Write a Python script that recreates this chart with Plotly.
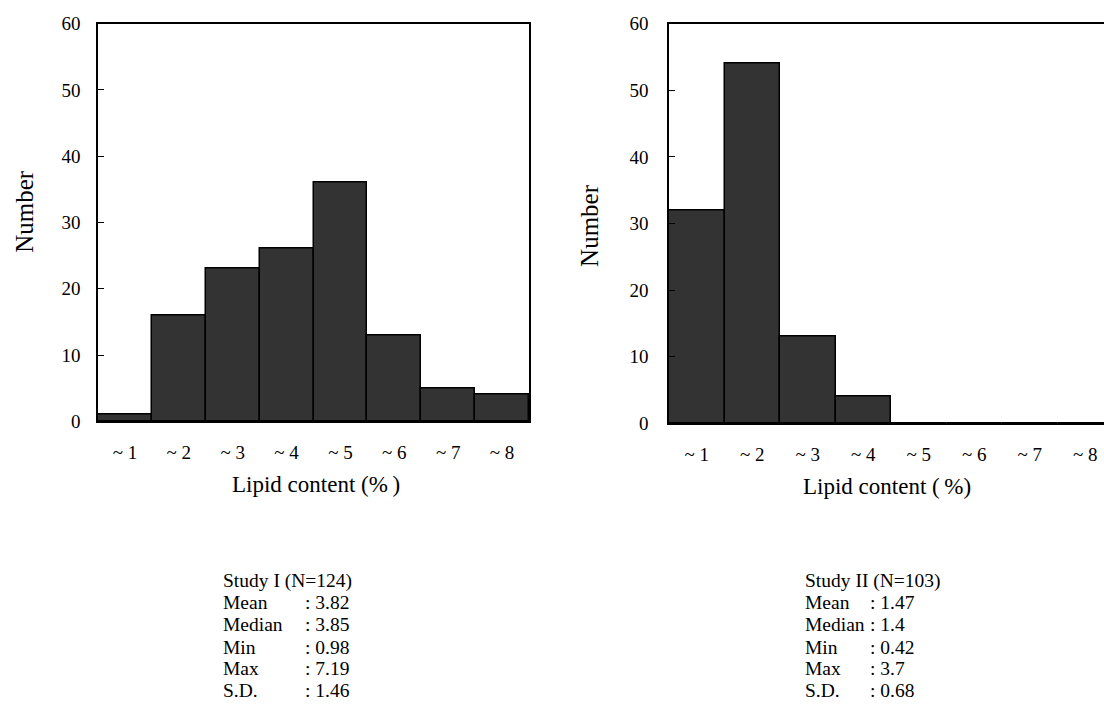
import plotly.graph_objects as go

categories = ["~ 1", "~ 2", "~ 3", "~ 4", "~ 5", "~ 6", "~ 7", "~ 8"]
study1_counts = [1, 16, 23, 26, 36, 13, 5, 4]
study2_counts = [32, 54, 13, 4, 0, 0, 0, 0]
y_ticks = [0, 10, 20, 30, 40, 50, 60]
stat_names = ["Mean", "Median", "Min", "Max", "S.D."]
study1_stats = ["3.82", "3.85", "0.98", "7.19", "1.46"]
study2_stats = ["1.47", "1.4", "0.42", "3.7", "0.68"]
study1_title = "Study I (N=124)"
study2_title = "Study II (N=103)"

W, H = 1104, 709
FONT = "Liberation Serif, Times New Roman, serif"
FS = 19

def px(x):
    return x / W

def py(y):
    return 1 - y / H

xpos = list(range(len(categories)))

fig = go.Figure()
fig.add_trace(go.Bar(x=xpos, y=study1_counts, width=1, xaxis="x", yaxis="y",
                     marker=dict(color="#333333", line=dict(color="black", width=1.5)),
                     showlegend=False))
fig.add_trace(go.Bar(x=xpos, y=study2_counts, width=1, xaxis="x2", yaxis="y2",
                     marker=dict(color="#333333", line=dict(color="black", width=1.5)),
                     showlegend=False))

axis_common = dict(showgrid=False, zeroline=False, showline=True, linecolor="black",
                   linewidth=1.5, tickfont=dict(family=FONT, size=FS, color="black"))

BW2 = 55.5  # right panel bar width in px
fig.update_layout(
    width=W, height=H,
    margin=dict(l=0, r=0, t=0, b=0),
    paper_bgcolor="white", plot_bgcolor="white",
    bargap=0,
    font=dict(family=FONT, size=FS, color="black"),
    xaxis=dict(domain=[px(98), px(529)], range=[-0.5, 7.5], tickvals=xpos, ticktext=categories,
               ticks="", mirror=True, ticklabelstandoff=13, anchor="y", **axis_common),
    yaxis=dict(domain=[py(424), py(14)], range=[0, 60], tickvals=y_ticks, ticks="inside",
               ticklen=6, tickcolor="black", mirror=True, ticklabelstandoff=12, anchor="x",
               **axis_common),
    xaxis2=dict(domain=[px(669), 1.0], range=[-0.5, (W - 669) / BW2 - 0.5], tickvals=xpos,
                ticktext=categories, ticks="", mirror=True, ticklabelstandoff=13, anchor="y2",
                **axis_common),
    yaxis2=dict(domain=[py(426), py(14)], range=[0, 60], tickvals=y_ticks, ticks="inside",
                ticklen=6, tickcolor="black", mirror=False, ticklabelstandoff=15, anchor="x2",
                **axis_common),
)

ann = []
def text(x, y, s, xanchor="left", angle=0, size=FS):
    ann.append(dict(x=px(x), y=py(y), xref="paper", yref="paper", text=s, showarrow=False,
                    xanchor=xanchor, yanchor="middle", textangle=angle,
                    font=dict(family=FONT, size=size, color="black")))

text(25, 208, "Number", "center", -90, 25)
text(590, 222.5, "Number", "center", -90, 25)
text(316, 489, "Lipid content (%\u2009)", "center", size=23)
text(887, 491, "Lipid content (\u2009%)", "center", size=23)

title_y = 588
rows_y = [610.8, 633.5, 656.5, 679, 701.5]
SFS = 19.5
text(221, title_y, study1_title, size=SFS)
text(803, title_y, study2_title, size=SFS)
for name, v1, v2, yy in zip(stat_names, study1_stats, study2_stats, rows_y):
    text(221, yy, name, size=SFS)
    text(303, yy, ": " + v1, size=SFS)
    text(803, yy, name, size=SFS)
    text(868, yy, ": " + v2, size=SFS)

fig.update_layout(annotations=ann)
fig.write_html("out.html", config={"displayModeBar": False},
               post_script="document.body.style.margin='0';document.body.style.overflow='hidden';")
